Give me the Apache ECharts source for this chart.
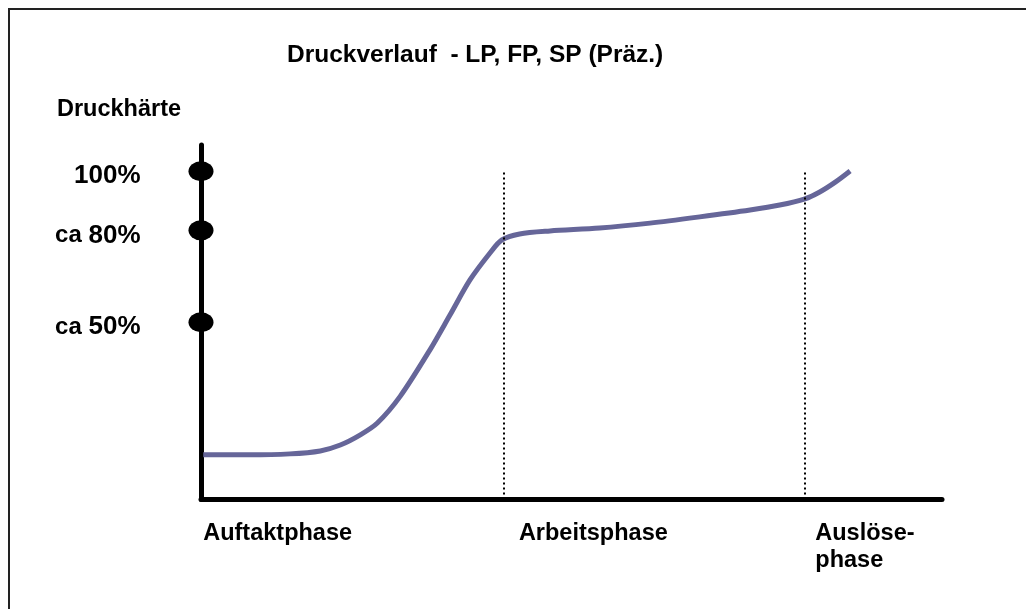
<!DOCTYPE html>
<html>
<head>
<meta charset="utf-8">
<script src="https://cdn.jsdelivr.net/npm/echarts@6/dist/echarts.min.js"></script>
<style>
  html, body { margin: 0; padding: 0; background: #fff; overflow: hidden; }
  #chart { width: 1026px; height: 609px; position: relative; }
  #frame { position: absolute; left: 8px; top: 8px; width: 2000px; height: 2000px;
           border-left: 2px solid #222; border-top: 2px solid #222; pointer-events: none; }
</style>
</head>
<body>
<div id="chart"></div>
<div id="frame"></div>
<script>
// ---- data ----
const titleText = 'Druckverlauf  - LP, FP, SP (Präz.)';
const yAxisTitle = 'Druckhärte';

// pressure curve (x: travel 0..100, y: hardness in %)
const curveX = [0.3, 6.6, 12.0, 16.1, 18.8, 21.5, 23.8, 26.9, 30.9, 33.6, 36.3, 39.0, 40.6, 43.0, 47.1, 53.8, 60.6, 67.3, 74.1, 78.1, 81.5, 83.5, 85.6, 87.6];
const curveY = [13.6, 13.6, 13.9, 14.8, 16.6, 19.7, 23.3, 31.5, 45.6, 56.2, 66.9, 75.1, 79.1, 80.9, 81.8, 82.7, 84.2, 86.1, 88.2, 89.7, 91.6, 93.7, 96.7, 100.1];

// marked hardness levels on the y axis
const levelValues = [100, 82, 54];
const levelPrefix = ['', 'ca ', 'ca '];
const levelNumbers = ['100%', '80%', '50%'];

// phase boundaries (dotted lines) and phase labels
const phaseBoundaries = [40.8, 81.5];
const boundaryTop = 100.4;
const phasePositions = [0.3, 42.9, 82.9];
const phaseLabels = ['Auftaktphase', 'Arbeitsphase', 'Auslöse-\nphase'];

// ---- chart ----
const FONT = "'Liberation Sans', Arial, Helvetica, sans-serif";
const chart = echarts.init(document.getElementById('chart'), null, { renderer: 'canvas' });

const option = {
  animation: false,
  backgroundColor: 'transparent',
  title: [
    {
      text: titleText, left: 287, top: 41, padding: 0,
      textStyle: { fontFamily: FONT, fontWeight: 'bold', fontSize: 24.5, lineHeight: 28, color: '#000' }
    },
    {
      text: yAxisTitle, left: 57, top: 96, padding: 0,
      textStyle: { fontFamily: FONT, fontWeight: 'bold', fontSize: 23.5, lineHeight: 28, color: '#000' }
    }
  ],
  grid: { left: 201, top: 145, width: 741, height: 354.5 },
  xAxis: {
    type: 'value', min: 0, max: 100,
    axisLine: { show: true, lineStyle: { color: '#000', width: 5 } },
    axisTick: { show: false },
    splitLine: { show: false },
    axisLabel: {
      show: true,
      customValues: phasePositions,
      align: 'left',
      verticalAlign: 'top',
      margin: 21,
      fontFamily: FONT, fontWeight: 'bold', fontSize: 23.5, lineHeight: 27, color: '#000',
      formatter: function (v) {
        let best = 0, d = Infinity;
        phasePositions.forEach((p, i) => { if (Math.abs(p - v) < d) { d = Math.abs(p - v); best = i; } });
        return phaseLabels[best];
      }
    }
  },
  yAxis: {
    type: 'value', min: 0, max: 108,
    axisLine: { show: true, lineStyle: { color: '#000', width: 5 } },
    axisTick: { show: false },
    axisLabel: { show: false },
    splitLine: { show: false }
  },
  series: [
    {
      type: 'line',
      data: curveX.map((x, i) => [x, curveY[i]]),
      smooth: 0.3,
      showSymbol: false,
      symbol: 'none',
      lineStyle: { color: '#666699', width: 5 },
      silent: true,
      z: 3,
      markLine: {
        silent: true,
        symbol: ['none', 'none'],
        label: { show: false },
        lineStyle: { color: '#000', width: 2, type: [2, 3] },
        data: phaseBoundaries.map(b => [{ coord: [b, 0] }, { coord: [b, boundaryTop] }])
      }
    },
    {
      type: 'scatter',
      clip: false,
      silent: true,
      data: levelValues.map((v, i) => ({ value: [0, v], name: String(i) })),
      symbol: 'circle',
      symbolSize: [25, 20],
      itemStyle: { color: '#000', opacity: 1 },
      z: 5,
      label: {
        show: true,
        position: 'left',
        distance: 48,
        offset: [0, 5],
        opacity: 1,
        formatter: function (p) {
          const i = p.dataIndex;
          return (levelPrefix[i] ? '{a|' + levelPrefix[i] + '}' : '') + '{b|' + levelNumbers[i] + '}';
        },
        rich: {
          a: { fontFamily: FONT, fontWeight: 'bold', fontSize: 24, color: '#000' },
          b: { fontFamily: FONT, fontWeight: 'bold', fontSize: 26, color: '#000' }
        }
      }
    }
  ]
};
chart.setOption(option);
</script>
</body>
</html>
